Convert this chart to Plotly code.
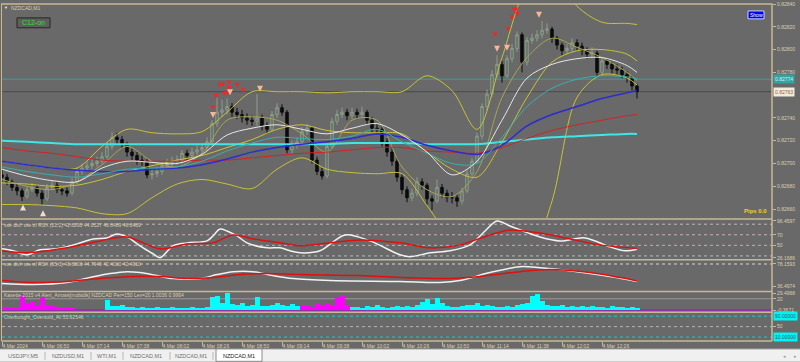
import plotly.graph_objects as go

# ---------------- data ----------------
closes = [0.82688,0.82684,0.82679,0.82676,0.82671,0.82677,0.82679,0.82674,0.82669,0.82679,
          0.82681,0.82677,0.82676,0.82674,0.82684,0.82693,0.82696,0.82698,0.82700,0.82702,
          0.82706,0.82715,0.82723,0.82721,0.82717,0.82710,0.82707,0.82703,0.82702,0.82690,
          0.82691,0.82693,0.82698,0.82700,0.82702,0.82703,0.82709,0.82707,0.82710,0.82712,
          0.82714,0.82719,0.82735,0.82745,0.82747,0.82750,0.82745,0.82743,0.82740,0.82738,
          0.82737,0.82740,0.82733,0.82730,0.82743,0.82749,0.82745,0.82712,0.82716,0.82719,
          0.82728,0.82731,0.82703,0.82693,0.82689,0.82715,0.82737,0.82743,0.82745,0.82742,
          0.82745,0.82743,0.82745,0.82738,0.82731,0.82730,0.82719,0.82710,0.82702,0.82688,
          0.82677,0.82670,0.82674,0.82684,0.82681,0.82669,0.82667,0.82679,0.82674,0.82670,
          0.82670,0.82667,0.82676,0.82691,0.82702,0.82724,0.82750,0.82761,0.82778,0.82787,
          0.82777,0.82792,0.82801,0.82813,0.82789,0.82808,0.82810,0.82813,0.82817,0.82818,
          0.82810,0.82804,0.82799,0.82801,0.82806,0.82803,0.82799,0.82796,0.82797,0.82780,
          0.82790,0.82787,0.82783,0.82782,0.82778,0.82775,0.82768,0.82763]
first_open = 0.82690
highs = [0.82694,0.82691,0.82686,0.82682,0.82678,0.82680,0.82683,0.82681,0.82677,0.82682,
         0.82685,0.82684,0.82680,0.82679,0.82687,0.82696,0.82700,0.82702,0.82704,0.82706,
         0.82710,0.82719,0.82728,0.82727,0.82724,0.82719,0.82713,0.82710,0.82707,0.82704,
         0.82695,0.82697,0.82701,0.82704,0.82706,0.82707,0.82712,0.82712,0.82714,0.82716,
         0.82718,0.82723,0.82738,0.82758,0.82756,0.82757,0.82753,0.82749,0.82747,0.82744,
         0.82742,0.82761,0.82743,0.82736,0.82746,0.82753,0.82752,0.82747,0.82720,0.82723,
         0.82732,0.82735,0.82733,0.82706,0.82696,0.82718,0.82740,0.82747,0.82749,0.82748,
         0.82749,0.82748,0.82750,0.82747,0.82741,0.82735,0.82732,0.82722,0.82713,0.82705,
         0.82691,0.82680,0.82678,0.82688,0.82687,0.82683,0.82672,0.82686,0.82682,0.82677,
         0.82675,0.82673,0.82679,0.82694,0.82705,0.82727,0.82753,0.82765,0.82782,0.82795,
         0.82790,0.82795,0.82805,0.82816,0.82815,0.82811,0.82814,0.82817,0.82825,0.82823,
         0.82820,0.82812,0.82806,0.82805,0.82810,0.82809,0.82806,0.82802,0.82802,0.82799,
         0.82793,0.82792,0.82789,0.82787,0.82785,0.82781,0.82777,0.82770]
lows = [0.82684,0.82681,0.82676,0.82672,0.82667,0.82669,0.82675,0.82671,0.82664,0.82667,
        0.82677,0.82674,0.82672,0.82671,0.82672,0.82682,0.82690,0.82693,0.82695,0.82697,
        0.82700,0.82704,0.82712,0.82717,0.82713,0.82706,0.82703,0.82699,0.82698,0.82687,
        0.82686,0.82688,0.82690,0.82695,0.82697,0.82699,0.82700,0.82703,0.82704,0.82707,
        0.82709,0.82711,0.82717,0.82732,0.82741,0.82743,0.82741,0.82739,0.82736,0.82734,
        0.82733,0.82733,0.82729,0.82726,0.82728,0.82740,0.82742,0.82709,0.82708,0.82713,
        0.82716,0.82725,0.82700,0.82690,0.82686,0.82687,0.82713,0.82734,0.82740,0.82738,
        0.82739,0.82739,0.82740,0.82734,0.82727,0.82726,0.82715,0.82706,0.82698,0.82684,
        0.82673,0.82666,0.82667,0.82671,0.82677,0.82664,0.82659,0.82665,0.82670,0.82666,
        0.82665,0.82662,0.82664,0.82674,0.82688,0.82700,0.82721,0.82747,0.82758,0.82775,
        0.82771,0.82775,0.82789,0.82798,0.82780,0.82786,0.82805,0.82807,0.82810,0.82814,
        0.82806,0.82800,0.82795,0.82796,0.82798,0.82799,0.82795,0.82792,0.82793,0.82776,
        0.82777,0.82783,0.82779,0.82778,0.82775,0.82771,0.82764,0.82757]

# minutes after 06:26 for the smooth indicator lines in the price window
line_t = [0,15,30,45,60,75,90,105,120,135,150,165,180,195,210,225,240,255,270,285,300,315,330,345,360,375,381]
ma_cyan = [0.82720,0.82719,0.82718,0.82717,0.82717,0.82717,0.82717,0.82717,0.82717,0.82717,0.82717,0.82717,0.82717,0.82717,
           0.82718,0.82718,0.82718,0.82717,0.82717,0.82717,0.82719,0.82721,0.82723,0.82724,0.82725,0.82726,0.82726]
ma_red = [0.82714,0.82711,0.82709,0.82706,0.82703,0.82702,0.82702,0.82702,0.82703,0.82703,0.82705,0.82707,0.82709,0.82710,
          0.82712,0.82714,0.82714,0.82711,0.82710,0.82709,0.82714,0.82722,0.82729,0.82734,0.82738,0.82742,0.82743]
ma_blue = [0.82702,0.82699,0.82696,0.82694,0.82693,0.82693,0.82695,0.82696,0.82699,0.82704,0.82710,0.82714,0.82717,0.82719,
           0.82722,0.82726,0.82723,0.82716,0.82711,0.82708,0.82716,0.82733,0.82743,0.82750,0.82757,0.82762,0.82764]
ma_teal = [0.82697,0.82693,0.82690,0.82688,0.82691,0.82695,0.82696,0.82697,0.82702,0.82711,0.82718,0.82723,0.82722,0.82721,
           0.82724,0.82730,0.82719,0.82709,0.82700,0.82700,0.82723,0.82750,0.82766,0.82774,0.82777,0.82776,0.82774]
ma_white = [0.82695,0.82689,0.82685,0.82684,0.82696,0.82702,0.82701,0.82700,0.82708,0.82725,0.82731,0.82734,0.82730,0.82726,
            0.82731,0.82735,0.82725,0.82710,0.82690,0.82702,0.82738,0.82775,0.82787,0.82792,0.82793,0.82786,0.82780]
band_upper = [0.82702,0.82699,0.82696,0.82696,0.82715,0.82730,0.82727,0.82726,0.82728,0.82745,0.82763,0.82763,0.82763,0.82762,
              0.82763,0.82763,0.82763,0.82777,0.82764,0.82730,0.82793,0.82854,0.82867,0.82838,0.82824,0.82823,0.82822]
band_lower = [0.82664,0.82664,0.82663,0.82661,0.82656,0.82656,0.82670,0.82682,0.82686,0.82682,0.82678,0.82695,0.82705,0.82695,
              0.82692,0.82691,0.82691,0.82663,0.82632,0.82610,0.82606,0.82613,0.82667,0.82758,0.82778,0.82775,0.82769]
band_mid = [0.82683,0.82682,0.82680,0.82681,0.82686,0.82693,0.82698,0.82703,0.82707,0.82714,0.82721,0.82730,0.82734,0.82729,
            0.82727,0.82727,0.82726,0.82710,0.82695,0.82688,0.82719,0.82758,0.82789,0.82799,0.82800,0.82796,0.82790]
ma_olive = [0.82686,0.82680,0.82677,0.82684,0.82699,0.82715,0.82702,0.82697,0.82709,0.82738,0.82741,0.82738,0.82726,0.82710,
            0.82738,0.82738,0.82697,0.82677,0.82671,0.82693,0.82758,0.82793,0.82810,0.82802,0.82793,0.82780,0.82773]

# signal arrows
red_sig_t = [126.6,128.4,130.8,132.6,133.2,135.0,136.2,136.2,141.0,144.6,295.8,303.6,306.0,307.2,308.4,309.0]
red_sig_p = [0.82747,0.82757,0.82767,0.82767,0.82759,0.82760,0.82769,0.82764,0.82767,0.82762,
             0.82811,0.82816,0.82826,0.82833,0.82833,0.82829]
sell_t = [126.6,136.8,154.8,297.0,303.0,322.2]
sell_p = [0.82740,0.82760,0.82763,0.82798,0.82799,0.82828]
buy_t = [12.6,24.6]
buy_p = [0.82664,0.82659]

level_line = 0.82774
bid_price = 0.82763

# RSX (21,2)
rsx1_t = [0,6.6,15,22.8,33,45,54.6,63,69,75,82.8,90.6,94.8,102.6,111,123,126.6,130.8,135,141,
          147,159,166.8,172.8,178.8,190.8,205.8,220.8,238.8,244.8,256.8,268.8,280.8,289.8,297,304.8,
          322.8,334.8,349.8,364.8,373.8,381]
rsx1_white = [43.4,39.7,32.2,41.6,43.4,52.8,62.2,64.1,71.6,65.9,49.1,34.1,26.5,49.1,54.7,58.4,67.8,80.9,77.2,67.8,
              54.7,45.3,45.3,39.7,35.9,39.7,69.7,58.4,32.2,28.4,35.9,39.7,50.9,77.2,96.0,86.6,
              65.9,58.4,64.1,47.2,39.7,42.8]
rsx1_sig_t = [0,15,39,58.8,75,94.8,111,126.6,138.6,150.6,171,178.8,196.8,214.8,238.8,256.8,274.8,292.8,304.8,322.8,340.8,358.8,381]
rsx1_red = [39.7,35.9,45.3,58.4,65.9,43.4,52.8,54.7,69.7,62.2,52.8,49.1,54.7,60.3,54.7,45.3,50.9,69.7,79.1,73.4,62.2,50.9,44.05]

# RSX (55,3)
rsx2_t = [0,18.6,39,52.8,64.8,75,82.8,93,102.6,118.8,129,138.6,150.6,162.6,174.6,196.8,238.8,262.8,274.8,292.8,310.8,322.8,340.8,364.8,381]
rsx2_white = [40.9,39.4,42.4,49.8,55.7,58.6,57.2,52.7,48.3,48.3,54.2,58.6,58.6,52.7,48.3,45.4,43.9,42.4,45.4,57.2,66.0,64.5,60.1,51.3,43.9]
rsx2_sig_t = [0,18.6,39,58.8,78.6,94.8,111,126.6,142.8,159,178.8,214.8,238.8,268.8,286.8,310.8,328.8,352.8,370.8,381]
rsx2_red = [45.4,42.4,43.9,48.3,51.3,51.3,48.3,49.8,54.2,55.7,54.2,52.7,49.8,48.3,51.3,58.6,61.6,57.2,49.8,44.8]

# Kasette histogram (per bar)
kas_pink = [3,4,3,5,26,10,14,8,22,6,7,5,4,3,2,0,0,0,0,0,
            0,0,0,0,0,0,0,0,0,0,0,0,0,0,0,0,0,0,0,0,
            0,0,0,0,0,0,0,0,0,0,0,0,0,0,0,0,0,0,0,0,
            6,8,5,10,7,12,9,20,24,8,0,0,0,0,0,0,0,0,0,0,
            0,0,0,0,0,0,0,0,0,0,0,0,0,0,0,0,0,0,0,0,
            0,0,0,0,0,0,0,0,0,0,0,0,0,0,0,0,0,0,0,0,
            0,0,0,0,0,0,0,0]
kas_cyan = [0,0,0,0,0,0,0,0,0,0,0,0,0,0,0,0,0,0,0,0,
            0,17,7,6,8,5,4,3,4,2,3,5,3,2,4,3,2,3,4,3,
            2,4,23,24,12,29,10,8,11,6,9,22,7,6,9,11,8,6,10,7,
            0,0,0,0,0,0,0,0,0,0,4,5,3,6,4,8,5,3,4,6,
            5,7,4,9,14,18,10,21,12,6,5,4,6,8,9,11,7,9,6,5,
            4,6,5,8,10,12,24,28,15,9,7,6,8,5,6,4,7,5,6,4,
            5,3,6,4,5,3,4,3]

time_ticks = [0,24,48,72,96,120,144,168,192,216,240,264,288,312,336,360]
time_labels = ["4 Mar 2024","4 Mar 06:50","4 Mar 07:14","4 Mar 07:38","4 Mar 08:02","4 Mar 08:26",
               "4 Mar 08:50","4 Mar 09:14","4 Mar 09:38","4 Mar 10:02","4 Mar 10:26","4 Mar 10:50",
               "4 Mar 11:14","4 Mar 11:38","4 Mar 12:02","4 Mar 12:26"]
price_ticks = [0.8266,0.8268,0.8270,0.8272,0.8274,0.8278,0.8280,0.8282,0.8284]
price_labels = ["0.82660","0.82680","0.82700","0.82720","0.82740","0.82780","0.82800","0.82820","0.82840"]
tabs = ["USDJPY,M5","NZDUSD,M1","WTI,M1","NZDCAD,M1","NZDCAD,M1","NZDCAD,M1"]

# ---------------- layout helpers ----------------
W, H = 800, 362
ML, MR, MT, MB = 2, 28, 1, 21
PW = W - ML - MR
PH = H - MT - MB

def fx(px):
    return (px - ML) / PW

def fy(py):
    return 1 - (py - MT) / PH

BG = "#696969"
TAN = "#c8b896"
LBL = "#dccdae"
FONT = "Liberation Sans"

bar_minutes = [3 * i for i in range(len(closes))]
opens = [first_open] + closes[:-1]

fig = go.Figure()

fig.add_trace(go.Candlestick(
    x=bar_minutes, open=opens, high=highs, low=lows, close=closes,
    increasing=dict(line=dict(color="#8d9d8d", width=1), fillcolor="#5f705f"),
    decreasing=dict(line=dict(color="#0c0c0c", width=1), fillcolor="#0c0c0c"),
    whiskerwidth=0, xaxis="x", yaxis="y", hoverinfo="skip"))

def line(t, v, color, width, axis="y"):
    fig.add_trace(go.Scatter(x=t, y=v, mode="lines", yaxis=axis, xaxis="x", hoverinfo="skip",
                             line=dict(color=color, width=width, shape="spline", smoothing=0.9)))

line(line_t, band_upper, "#c9c236", 1)
line(line_t, band_lower, "#c9c236", 1)
line(line_t, band_mid, "#c9c236", 1)
line(line_t, ma_olive, "#a8a552", 1)
line(line_t, ma_cyan, "#40e6e6", 2)
line(line_t, ma_red, "#d42222", 1)
line(line_t, ma_blue, "#2c2cd0", 1.5)
line(line_t, ma_teal, "#3aaeae", 1)
line(line_t, ma_white, "#e6e6e6", 1)

fig.add_trace(go.Scatter(x=red_sig_t, y=red_sig_p, mode="markers", yaxis="y", hoverinfo="skip",
                         marker=dict(symbol="arrow-down", size=4.5, color="#ff2020", line=dict(width=0))))
fig.add_trace(go.Scatter(x=sell_t, y=sell_p, mode="markers", yaxis="y", hoverinfo="skip",
                         marker=dict(symbol="arrow-down", size=6, color="#f6b896", line=dict(width=0))))
fig.add_trace(go.Scatter(x=buy_t, y=buy_p, mode="markers", yaxis="y", hoverinfo="skip",
                         marker=dict(symbol="arrow-up", size=6, color="#f2dfcb", line=dict(width=0))))

line(rsx1_t, rsx1_white, "#f2f2f2", 1.5, "y2")
line(rsx1_sig_t, rsx1_red, "#e01010", 1.5, "y2")
line(rsx2_t, rsx2_white, "#f2f2f2", 1.5, "y3")
line(rsx2_sig_t, rsx2_red, "#e01010", 1.5, "y3")

fig.add_trace(go.Bar(x=bar_minutes, y=kas_pink, width=3, marker=dict(color="#ff00ff", line=dict(width=0)),
                     yaxis="y4", hoverinfo="skip"))
fig.add_trace(go.Bar(x=bar_minutes, y=kas_cyan, width=3, marker=dict(color="#00ffff", line=dict(width=0)),
                     yaxis="y4", hoverinfo="skip"))

shapes = []
def hline(axis, val, color, dash="dot", width=1):
    shapes.append(dict(type="line", xref="paper", yref=axis, x0=0, x1=1, y0=val, y1=val,
                       line=dict(color=color, width=width, dash=dash), layer="below"))

def pline(x0, y0, x1, y1, color, width=1):
    shapes.append(dict(type="line", xref="paper", yref="paper", x0=fx(x0), x1=fx(x1), y0=fy(y0), y1=fy(y1),
                       line=dict(color=color, width=width)))

def prect(x0, y0, x1, y1, fill, color=None, width=0):
    shapes.append(dict(type="rect", xref="paper", yref="paper", x0=fx(x0), x1=fx(x1), y0=fy(y0), y1=fy(y1),
                       fillcolor=fill, line=dict(color=color or fill, width=width), layer="above"))

hline("y", level_line, "#3c9e9e", "solid")
hline("y", bid_price, "#4a4a4a", "solid")
hline("y2", 90, "#b8b8b8")
hline("y2", 70, "#d4a6bc")
hline("y2", 50, "#d4a6bc")
hline("y2", 30, "#b8b8b8")
hline("y3", 70, "#d6d6d6")
hline("y4", 20, "#9a9a9a", "solid")
hline("y4", 0, "#a020c0", "solid", 1.5)
hline("y5", 90, "#00d8d8")
hline("y5", 50, "#b4b4b4")
hline("y5", 10, "#00d8d8")

# panel frames
for yy in [1, 218, 259, 291, 312, 341]:
    pline(1.5, yy, 772, yy, TAN, 1.5)
pline(772, 0.5, 772, 341, TAN, 1.5)
pline(1.5, 0.5, 1.5, 341, TAN, 1)

# tab strip
prect(0, 349, 800, 362, "#f0f0f0")
pline(0, 349, 800, 349, "#9a9a9a", 1)
prect(216, 349, 262, 361.5, "#ffffff", "#8a8a8a", 1)
for sx in [45, 91, 123, 170, 213]:
    pline(sx, 352, sx, 360, "#b8b8b8", 1)

# buttons
prect(17, 15, 50, 25, "#5e5e5e", "#262626", 1)
prect(748, 8, 764, 16, "#0000f0", "#d0d0ff", 1)

ann = []
def text(xp, yp, s, size, color, anchor="left", bold=False, bg=None):
    ann.append(dict(xref="paper", yref="paper", x=fx(xp), y=fy(yp), text=("<b>%s</b>" % s) if bold else s,
                    showarrow=False, xanchor=anchor, yanchor="middle",
                    font=dict(family=FONT, size=size, color=color),
                    bgcolor=bg, borderpad=0))

text(3, 5, "\u25bc", 4, "#f0f0f0")
text(10, 5, "NZDCAD,M1", 5, LBL)
text(33.5, 20, "C12-on", 7, "#2ee02e", "center")
text(756, 12, "Show", 5, "#ffffff", "center")
text(768, 210, "Pips 0.0", 6, "#f2d21e", "right", bold=True)
text(3, 224, "sse divl: sse of RSX (21,2) 42.8290 44.0527 48.8489 48.8489", 5, LBL)
text(3, 263.5, "sse divl: sse of RSX (55,3) 43.8803 44.7940 42.4010 42.4010", 5, LBL)
text(3, 294.5, "Kasette 2015 v4 Alert_Arrows[mobidik] NZDCAD Per=150 Lev=20 1.0036 0.9964", 5, LBL)
text(3, 316.5, "Overbought_Oversold_All 55.92546", 5, LBL)

# price boxes on the right scale
ann.append(dict(xref="paper", yref="y", x=fx(773), y=level_line, text="0.82774", showarrow=False,
                xanchor="left", yanchor="middle", font=dict(family=FONT, size=5, color="#d8f4f4"),
                bgcolor="#33a3a3", borderpad=1))
ann.append(dict(xref="paper", yref="y", x=fx(773), y=bid_price, text="0.82763", showarrow=False,
                xanchor="left", yanchor="middle", font=dict(family=FONT, size=5, color="#7a6a58"),
                bgcolor="#f6ead6", borderpad=1))
for v, s in [(90, "90.00000"), (10, "10.00000")]:
    ann.append(dict(xref="paper", yref="y5", x=fx(773), y=v, text=s, showarrow=False,
                    xanchor="left", yanchor="middle", font=dict(family=FONT, size=5, color="#2c5a66"),
                    bgcolor="#00f4f4", borderpad=1))

# tabs text
tab_cx = [23, 68, 107, 146, 191, 239]
for i, (cx, s) in enumerate(zip(tab_cx, tabs)):
    text(cx, 356, s, 5.5, "#202020" if i == len(tabs) - 1 else "#6e6e6e", "center")
text(784, 356, "\u25c2", 5, "#9a9a9a", "center")
text(795, 356, "\u25b8", 5, "#9a9a9a", "center")

def yax(domain, rng, tv, tt):
    return dict(domain=domain, range=rng, side="right", anchor="x", showgrid=False, zeroline=False,
                tickvals=tv, ticktext=tt, ticks="outside", ticklen=3, tickcolor=TAN, showline=False,
                tickfont=dict(family=FONT, size=5, color=LBL), fixedrange=True)

fig.update_layout(
    width=W, height=H, margin=dict(l=ML, r=MR, t=MT, b=MB),
    paper_bgcolor=BG, plot_bgcolor=BG, showlegend=False, barmode="overlay", bargap=0,
    xaxis=dict(domain=[0, 1], range=[0, 462], anchor="y5", showgrid=False, zeroline=False,
               tickvals=time_ticks, ticktext=time_labels, ticks="outside", ticklen=4, tickcolor=TAN,
               ticklabelposition="outside right", tickfont=dict(family=FONT, size=5, color=LBL),
               rangeslider=dict(visible=False), showline=False, fixedrange=True),
    yaxis=yax([fy(217), 1], [0.826521, 0.828400], price_ticks, price_labels),
    yaxis2=yax([fy(258), fy(219)], [24.69, 97.81], [96.4597, 70, 50, 26.1686],
               ["96.4597", "70", "50", "26.1686"]),
    yaxis3=yax([fy(290), fy(260)], [30.59, 74.87], [70, 36.4974], ["78.1593", "36.4974"]),
    yaxis4=yax([fy(311), fy(292)], [-2.13, 31.26], [29.4968, 20, -0.3671], ["29.4968", "20", "-0.3671"]),
    yaxis5=yax([0, fy(313)], [-5.2, 101.4], [50], ["50"]),
    shapes=shapes, annotations=ann,
)

fig.write_html("out.html")
